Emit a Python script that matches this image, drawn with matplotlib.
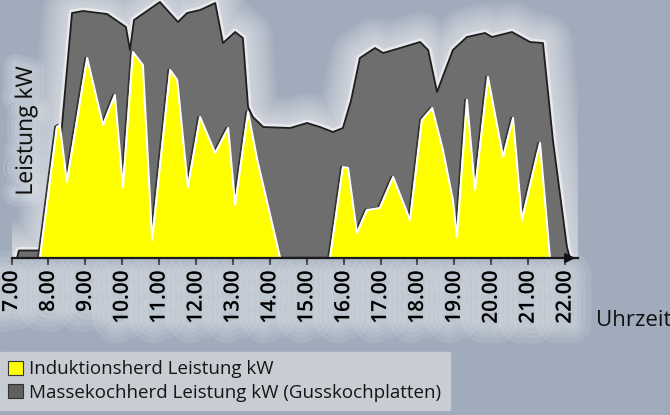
import matplotlib
matplotlib.use("Agg")
import matplotlib.pyplot as plt
import matplotlib.patheffects as pe
from matplotlib.patches import Patch

# ---------------- data ----------------
hours = [7, 8, 9, 10, 11, 12, 13, 14, 15, 16, 17, 18, 19, 20, 21, 22]
tick_labels = ["7.00", "8.00", "9.00", "10.00", "11.00", "12.00", "13.00", "14.00",
               "15.00", "16.00", "17.00", "18.00", "19.00", "20.00", "21.00", "22.00"]

t_induktion = [7.77, 8.23, 8.31, 8.50, 9.05, 9.48, 9.80, 10.02, 10.29, 10.56, 10.81,
               11.30, 11.49, 11.78, 12.11, 12.52, 12.87, 13.06, 13.41, 13.66, 14.28,
               15.63, 15.98, 16.12, 16.36, 16.63, 16.98, 17.34, 17.80, 18.12, 18.40,
               18.69, 18.96, 19.07, 19.34, 19.56, 19.91, 20.32, 20.59, 20.83, 21.32, 21.59]
p_induktion = [0.0, 5.24, 5.32, 3.04, 8.0, 5.32, 6.52, 2.84, 8.24, 7.72, 0.72,
               7.52, 7.12, 2.84, 5.64, 4.2, 5.2, 2.12, 5.84, 3.92, 0.0,
               0.0, 3.64, 3.6, 1.0, 1.92, 2.0, 3.24, 1.52, 5.52, 6.0,
               4.32, 2.32, 0.84, 6.32, 2.72, 7.24, 4.04, 5.6, 1.52, 4.6, 0.0]

t_masse = [7.15, 7.2, 7.75, 7.83, 8.35, 8.64, 8.94, 9.59, 10.02, 10.10, 10.21, 10.32,
           11.02, 11.51, 11.76, 12.11, 12.52, 12.73, 13.06, 13.27, 13.41, 13.54, 13.82,
           14.55, 15.01, 15.36, 15.71, 15.98, 16.20, 16.44, 16.85, 17.07, 17.53, 18.07,
           18.29, 18.53, 18.96, 19.34, 19.83, 20.02, 20.56, 21.05, 21.40, 21.67, 22.05, 22.13]
p_masse = [0.0, 0.3, 0.3, 0.3, 5.0, 9.8, 9.88, 9.76, 9.32, 9.24, 8.32, 9.52,
           10.24, 9.44, 9.8, 9.92, 10.2, 8.6, 9.04, 8.8, 6.04, 5.64, 5.24,
           5.2, 5.4, 5.24, 5.04, 5.2, 6.3, 8.0, 8.4, 8.2, 8.4, 8.64,
           8.32, 6.64, 8.32, 8.84, 9.0, 8.84, 9.04, 8.64, 8.6, 4.72, 0.44, 0.0]

label_induktion = "Induktionsherd Leistung kW"
label_masse = "Massekochherd Leistung kW (Gusskochplatten)"

# ---------------- style ----------------
BG = "#a0abbb"
YELLOW = "#ffff00"
GRAY = "#6e6e6e"
FONT = ["Open Sans", "DejaVu Sans"]
plt.rcParams["font.family"] = FONT

fig = plt.figure(figsize=(6.7, 4.15), dpi=100, facecolor=BG)
ax = fig.add_axes([11.5 / 670, 157 / 415, 566.5 / 670, 258 / 415])
ax.set_facecolor("none")
ax.set_xlim(7, 22.35)
ax.set_ylim(0, 10.32)

glow = [pe.Stroke(linewidth=w, foreground="white", alpha=0.055)
        for w in range(44, 3, -3)]
glow.append(pe.Stroke(linewidth=5, foreground="white", alpha=0.5))
glow.append(pe.Normal())

ax.fill_between(t_masse, p_masse, 0, facecolor=GRAY, edgecolor="#1e1e1e",
                linewidth=1.3, zorder=2, path_effects=glow)

ax.fill_between(t_induktion, p_induktion, 0, facecolor=YELLOW, edgecolor="white",
                linewidth=1.5, zorder=3,
                path_effects=[pe.Stroke(linewidth=1.4, foreground="#333333", offset=(-1.3, 0.2)),
                              pe.Normal()])

for s in ["top", "right", "left"]:
    ax.spines[s].set_visible(False)
ax.spines["bottom"].set_color("#1a1a1a")
ax.spines["bottom"].set_linewidth(1.6)
ax.spines["bottom"].set_zorder(6)
ax.set_yticks([])
ax.set_xticks(hours)
ax.set_xticklabels(tick_labels, rotation=90, fontsize=15, color="black",
                   va="top", ha="center", fontweight=600)
ax.tick_params(axis="x", length=5, width=1.5, color="#1a1a1a", pad=4)
band = [pe.Stroke(linewidth=w, foreground="white", alpha=0.1) for w in (30, 22, 15, 9)]
band.append(pe.Normal())
for lab in ax.get_xticklabels():
    lab.set_path_effects(band)

ax.annotate("", xy=(1.0, 0), xytext=(0.975, 0), xycoords="axes fraction",
            arrowprops=dict(arrowstyle="-|>", color="#111111", lw=1.5, mutation_scale=14),
            zorder=7, annotation_clip=False)

halo = [pe.Stroke(linewidth=w, foreground="white", alpha=0.12) for w in (18, 12, 7)]
halo.append(pe.Normal())
fig.text(26 / 670, 1 - 131 / 415, "Leistung kW", rotation=90, ha="center", va="center",
         fontsize=16.5, color="#111111", path_effects=halo)
fig.text(596 / 670, 1 - 326 / 415, "Uhrzeit", ha="left", va="baseline",
         fontsize=16, color="#111111")

handles = [Patch(facecolor=YELLOW, edgecolor="#333333", linewidth=0.8),
           Patch(facecolor="#606060", edgecolor="#333333", linewidth=0.8)]
leg = fig.legend(handles, [label_induktion, label_masse], loc="upper left",
                 bbox_to_anchor=(0.0, 1 - 352 / 415), bbox_transform=fig.transFigure,
                 frameon=True, fancybox=False, framealpha=1.0, facecolor="#c8ccd3",
                 edgecolor="#c8ccd3", fontsize=13.5, handlelength=0.75, handleheight=0.75,
                 handletextpad=0.35, labelspacing=0.28, borderpad=0.45, borderaxespad=0.0)
for txt in leg.get_texts():
    txt.set_color("#151515")

fig.savefig("out.png", dpi=100, facecolor=BG)
